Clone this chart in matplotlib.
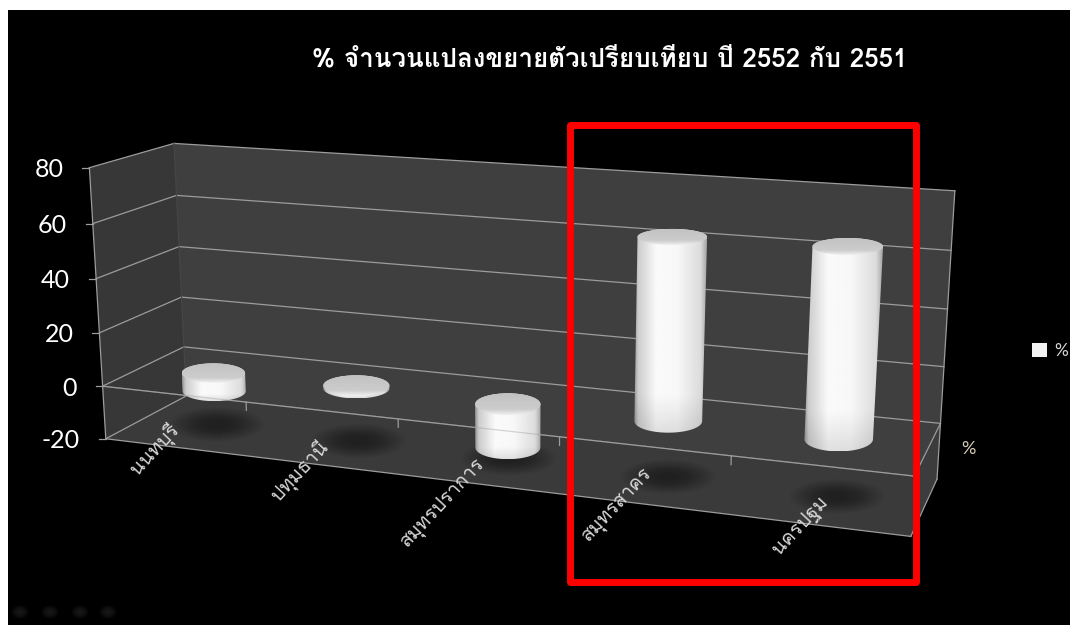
import numpy as np
import matplotlib
matplotlib.use("Agg")
import matplotlib.pyplot as plt
from matplotlib import font_manager
from matplotlib.ft2font import FT2Font
from matplotlib.patches import Polygon, Rectangle, Ellipse

# data
categories = ["นนทบุรี", "ปทุมธานี", "สมุทรปราการ", "สมุทรสาคร", "นครปฐม"]
values = [-7, 1, -16, 64, 65]
yticks = [-20, 0, 20, 40, 60, 80]
title = "% จำนวนแปลงขยายตัวเปรียบเทียบ ปี 2552 กับ 2551"
series_name = "%"

W, H = 1070, 625
NCAT = len(categories)
RZ = 0.24
# the perspective fit narrows the left bars too much, so radius is per bar
bar_radius = [0.228, 0.225, 0.21, 0.205, 0.195]


def thai_families():
    found = []
    for f in font_manager.fontManager.ttflist:
        try:
            if 0x0E01 in FT2Font(f.fname).get_charmap() and f.name not in found:
                found.append(f.name)
        except Exception:
            pass
    return found


thai = thai_families()
thai_family = thai + ["Lato", "DejaVu Sans"]

# camera calibration: (category, value, depth) -> pixel, fitted on the box corners
calib = [
    (0, 80, 0, 89, 168), (0, 40, 0, 96, 278), (0, 0, 0, 103, 386), (0, -20, 0, 106, 438),
    (0, 80, 1, 175, 143), (0, 40, 1, 178, 247), (0, 0, 1, 184, 347), (0, -20, 1, 186, 397),
    (NCAT, 80, 1, 955, 191), (NCAT, 40, 1, 948, 309), (NCAT, 0, 1, 940, 423), (NCAT, -20, 1, 937, 478),
    (NCAT, 0, 0, 912, 477), (NCAT, -20, 0, 913, 537),
]
rows = []
for u, v, z, px, py in calib:
    p = [u, v / 20, z, 1]
    rows.append(p + [0, 0, 0, 0] + [-px * c for c in p])
    rows.append([0, 0, 0, 0] + p + [-py * c for c in p])
CAM = np.linalg.svd(np.array(rows, float))[2][-1].reshape(3, 4)


def proj(u, v, z):
    u, v, z = np.broadcast_arrays(np.asarray(u, float), np.asarray(v, float) / 20, np.asarray(z, float))
    q = CAM @ np.stack([u, v, z, np.ones_like(u)])
    return q[0] / q[2], q[1] / q[2]


def line3d(ax, a, b, **kw):
    x, y = proj(*np.array([a, b], float).T)
    ax.plot(x, y, **kw)


def face(ax, pts, color, z=1):
    x, y = proj(*np.array(pts, float).T)
    ax.add_patch(Polygon(np.c_[x, y], fc=color, ec="none", zorder=z))


def hull(pts):
    pts = sorted(map(tuple, pts))
    def half(seq):
        out = []
        for p in seq:
            while len(out) > 1 and (out[-1][0] - out[-2][0]) * (p[1] - out[-2][1]) - (out[-1][1] - out[-2][1]) * (p[0] - out[-2][0]) <= 0:
                out.pop()
            out.append(p)
        return out[:-1]
    return np.array(half(pts) + half(pts[::-1]))


def circle(uc, v, zc, rx):
    # level ellipse, sized from the projected radius
    t = np.linspace(0, 2 * np.pi, 90)
    cx, cy = proj(uc, v, zc)
    x1, _ = proj(uc + rx, v, zc)
    x0, _ = proj(uc - rx, v, zc)
    _, y1 = proj(uc, v, zc - RZ)
    _, y0 = proj(uc, v, zc + RZ)
    return np.c_[float(cx) + (float(x1) - float(x0)) / 2 * np.cos(t), float(cy) + (float(y1) - float(y0)) / 2 * np.sin(t)]


def shade(ax, poly, img, z):
    x0, y0 = poly.min(axis=0)
    x1, y1 = poly.max(axis=0)
    im = ax.imshow(img, cmap="gray", vmin=0, vmax=1, extent=(x0, x1, y1, y0), aspect="auto",
                   interpolation="bilinear", zorder=z)
    im.set_clip_path(Polygon(poly, transform=ax.transData))


def cylinder(ax, uc, val, rx, zc=0.5):
    top = circle(uc, max(val, 0), zc, rx)
    bot = circle(uc, min(val, 0), zc, rx)
    body = hull(np.vstack([top, bot]))
    prof = np.interp(np.linspace(0, 1, 60), [0, 0.05, 0.3, 0.6, 0.92, 1], [0.6, 0.8, 0.98, 0.97, 0.86, 0.66])
    vert = np.interp(np.linspace(0, 1, 40), [0, 0.82, 0.93, 1], [1, 1, 0.94, 0.9])
    shade(ax, body, np.outer(vert, prof), 4)
    rim = np.interp(np.linspace(0, 1, 20), [0, 0.75, 1], [0.76, 0.8, 0.93])
    shade(ax, top, np.tile(rim[:, None], (1, 4)), 4.1)


def soft_blob(ax, cx, cy, w, h, color, alpha, z=3):
    for k in np.linspace(1, 0.2, 16):
        ax.add_patch(Ellipse((cx, cy), w * k, h * k, fc=color, ec="none", alpha=alpha, zorder=z))


fig = plt.figure(figsize=(W / 100, H / 100), dpi=100, facecolor="white")
ax = fig.add_axes([0, 0, 1, 1])
ax.set_axis_off()
ax.add_patch(Rectangle((8, 10), W - 8, H - 10, fc="black", ec="none", zorder=0))

# walls and floor
lo, hi = yticks[0], yticks[-1]
face(ax, [(0, lo, 1), (NCAT, lo, 1), (NCAT, hi, 1), (0, hi, 1)], "#3f3f3f")
face(ax, [(0, lo, 0), (0, lo, 1), (0, hi, 1), (0, hi, 0)], "#373737")
face(ax, [(0, lo, 0), (NCAT, lo, 0), (NCAT, lo, 1), (0, lo, 1)], "#3a3a3a")
face(ax, [(NCAT, lo, 0), (NCAT, lo, 1), (NCAT, 0, 1), (NCAT, 0, 0)], "#3c3c3c")

# grid
gc = "#9c9c9c"
for v in yticks:
    line3d(ax, (0, v, 0), (0, v, 1), color=gc, lw=0.9, zorder=2)
    if v > lo:
        line3d(ax, (0, v, 1), (NCAT, v, 1), color=gc, lw=0.9, zorder=2)
    fx, fy = proj(0, v, 0)
    ax.plot([fx - 7, fx], [fy, fy], color=gc, lw=0.9, zorder=2)
    ax.text(fx - 26, fy + 2, str(v), color="white", fontsize=18, family="Lato", ha="right", va="center", zorder=6)
line3d(ax, (0, lo, 0), (0, hi, 0), color=gc, lw=0.9, zorder=2)
line3d(ax, (0, lo, 1), (0, hi, 1), color="#484848", lw=0.8, zorder=2)
line3d(ax, (NCAT, lo, 1), (NCAT, hi, 1), color=gc, lw=0.9, zorder=2)
line3d(ax, (0, lo, 0), (NCAT, lo, 0), color=gc, lw=0.9, zorder=2)
line3d(ax, (NCAT, lo, 0), (NCAT, lo, 1), color=gc, lw=0.9, zorder=2)
line3d(ax, (NCAT, 0, 0), (NCAT, 0, 1), color=gc, lw=0.9, zorder=2)
line3d(ax, (0, 0, 0), (NCAT, 0, 0), color=gc, lw=0.9, zorder=2)
for i in range(1, NCAT):
    line3d(ax, (i, 0, 0), (i, -3, 0), color=gc, lw=0.9, zorder=2)

# shadows and bars
for i, val in enumerate(values):
    sx, sy = proj(i + 0.5, lo, 0.5)
    soft_blob(ax, float(sx) + 1, float(sy), 95, 34, "#141414", 0.05)
    cylinder(ax, i + 0.5, val, bar_radius[i])
line3d(ax, (0, 0, 0), (NCAT, 0, 0), color=gc, lw=0.9, alpha=0.4, zorder=5)

# category labels
label_offset = [(-21, 2), (-23, 6), (-35, 19), (-25, 2), (-18, 1)]
for i, name in enumerate(categories):
    x, y = proj(i + 0.5, lo, 0)
    ax.text(float(x) + label_offset[i][0], float(y) + label_offset[i][1], name, color="#d8d8d8", fontsize=14,
            family=thai_family, rotation=47, rotation_mode="anchor", ha="center", va="center", zorder=8)

# text, legend and highlight
ax.text(610, 59, title, color="white", fontsize=18.7, fontweight="bold", family=thai_family,
        ha="center", va="center", zorder=8)
ax.add_patch(Rectangle((1032, 343), 15, 14, fc="#f2f2f2", ec="none", zorder=6))
ax.text(1054, 351, series_name, color="#d8d8d8", fontsize=12.5, family="Lato", va="center", zorder=6)
ax.text(968, 449, series_name, color="#d9cfb8", fontsize=13, family="Lato", ha="center", va="center", zorder=6)
ax.add_patch(Rectangle((569.5, 124.5), 346, 457, fc="none", ec="#ff0000", lw=5, joinstyle="round", zorder=7))
for cx in (20, 50, 80, 108):
    soft_blob(ax, cx, 612, 18, 14, "#444444", 0.035, z=1)

ax.set_xlim(0, W)
ax.set_ylim(H, 0)
fig.savefig("out.png", dpi=100, facecolor="white")
